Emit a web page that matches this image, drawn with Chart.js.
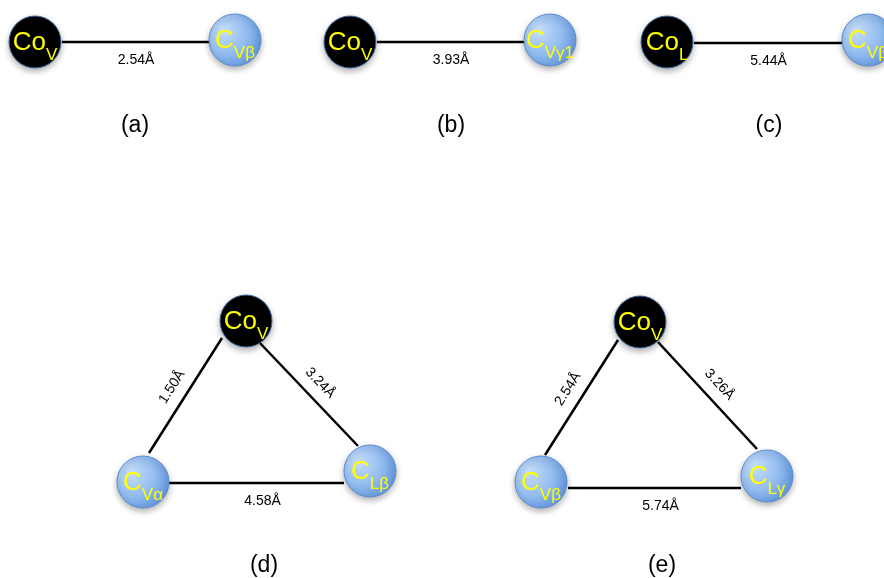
<!DOCTYPE html>
<html>
<head>
<meta charset="utf-8">
<script src="https://cdn.jsdelivr.net/npm/chart.js@4/dist/chart.umd.min.js"></script>
<style>
  html, body { margin: 0; padding: 0; background: #fff; }
  #wrap { width: 884px; height: 578px; }
</style>
</head>
<body>
<div id="wrap"><canvas id="diagram" width="884" height="578"></canvas></div>
<script>
// nodes (diagram units = reference pixels)
const nodeX = [35, 235, 350, 550, 667, 868, 246, 143, 370, 640, 541, 767];
const nodeY = [42, 40, 42, 40, 42, 40, 321, 482, 471, 322, 482, 476];
const nodeMain = ["Co", "C", "Co", "C", "Co", "C", "Co", "C", "C", "Co", "C", "C"];
const nodeSub = ["V", "Vβ", "V", "Vγ1", "L", "Vβ", "V", "Vα", "Lβ", "V", "Vβ", "Lγ"];

// bonds
const edgeX1 = [62, 377, 694, 149, 259, 169, 545, 658, 568];
const edgeY1 = [42, 42, 43, 453, 342, 483, 455, 342, 488];
const edgeX2 = [210, 525, 843, 222, 358, 344, 618, 757, 741];
const edgeY2 = [42, 42, 43, 338, 446, 483, 340, 449, 488];
const edgeLabel = ["2.54Å", "3.93Å", "5.44Å", "1.50Å", "3.24Å", "4.58Å", "2.54Å", "3.26Å", "5.74Å"];

// panel captions
const panelLabel = ["(a)", "(b)", "(c)", "(d)", "(e)"];
const panelX = [135, 451, 769, 264, 662];
const panelY = [126, 126, 126, 566, 566];

const FONT = "'Liberation Sans', Arial, Helvetica, sans-serif";

function nodeFill(ctx) {
    const i = ctx.dataIndex;
    if (i === undefined || nodeMain[i] === "Co") return "#000000";
    const sx = ctx.chart.scales.x, sy = ctx.chart.scales.y;
    if (!sx || !sy) return "#8ab4ea";
    const cx = sx.getPixelForValue(nodeX[i]);
    const cy = sy.getPixelForValue(nodeY[i]);
    if (!isFinite(cx) || !isFinite(cy)) return "#8ab4ea";
    const g = ctx.chart.ctx.createRadialGradient(cx - 12, cy - 10, 2, cx - 6, cy - 4, 40);
    g.addColorStop(0, "#c2dbf9");
    g.addColorStop(0.5, "#93bcef");
    g.addColorStop(1, "#4f86d4");
    return g;
}

const datasets = [{
    label: "nodes",
    data: nodeX.map((x, i) => ({ x: x, y: nodeY[i] })),
    pointRadius: 26,
    pointHoverRadius: 26,
    pointBackgroundColor: nodeFill,
    pointBorderColor: nodeMain.map(m => m === "Co" ? "#3d6aa3" : "#5a8bd0"),
    pointBorderWidth: 1,
    showLine: false,
    clip: false
}];

edgeX1.forEach((x, i) => {
    datasets.push({
        label: "bond " + edgeLabel[i],
        data: [{ x: x, y: edgeY1[i] }, { x: edgeX2[i], y: edgeY2[i] }],
        showLine: true,
        borderColor: "#000",
        borderWidth: 2.5,
        pointRadius: 0,
        clip: false
    });
});

// soft shadow under the atoms
const shadowPlugin = {
    id: "shadow",
    beforeDatasetDraw(chart, args) {
        if (args.index !== 0) return;
        const c = chart.ctx;
        c.save();
        c.shadowColor = "rgba(0,0,0,0.3)";
        c.shadowBlur = 6;
        c.shadowOffsetY = 3;
    },
    afterDatasetDraw(chart, args) {
        if (args.index === 0) chart.ctx.restore();
    }
};

// atom names, bond lengths and captions
const textPlugin = {
    id: "texts",
    afterDatasetsDraw(chart) {
        const c = chart.ctx;
        const sx = chart.scales.x, sy = chart.scales.y;
        c.save();

        // atom labels with subscript
        nodeX.forEach((v, i) => {
            const cx = sx.getPixelForValue(v);
            const cy = sy.getPixelForValue(nodeY[i]);
            c.font = "26px " + FONT;
            const wMain = c.measureText(nodeMain[i]).width;
            c.font = "17px " + FONT;
            const wSub = c.measureText(nodeSub[i]).width;
            const left = cx - (wMain + wSub) / 2;
            c.fillStyle = "#ffff00";
            c.textAlign = "left";
            c.textBaseline = "alphabetic";
            c.font = "26px " + FONT;
            c.fillText(nodeMain[i], left, cy + 8);
            c.font = "17px " + FONT;
            c.fillText(nodeSub[i], left + wMain, cy + 18);
        });

        // bond lengths
        c.font = "14px " + FONT;
        c.fillStyle = "#000";
        c.textAlign = "center";
        c.textBaseline = "middle";
        edgeLabel.forEach((t, i) => {
            const x1 = sx.getPixelForValue(edgeX1[i]), y1 = sy.getPixelForValue(edgeY1[i]);
            const x2 = sx.getPixelForValue(edgeX2[i]), y2 = sy.getPixelForValue(edgeY2[i]);
            const ang = Math.atan2(y2 - y1, x2 - x1);
            const mx = (x1 + x2) / 2, my = (y1 + y2) / 2;
            const flat = Math.abs(y2 - y1) < 2;
            const off = flat ? -18 : 16; // flat bonds: below, tilted: above
            const nx = Math.sin(ang) * off, ny = -Math.cos(ang) * off;
            c.save();
            c.translate(mx + nx + (flat && i > 4 ? 6 : 0), my + ny);
            c.rotate(ang);
            c.fillText(t, 0, 0);
            c.restore();
        });

        // panel captions
        c.font = "23px " + FONT;
        panelLabel.forEach((t, i) => {
            c.fillText(t, sx.getPixelForValue(panelX[i]), sy.getPixelForValue(panelY[i]));
        });
        c.restore();
    }
};

new Chart(document.getElementById("diagram"), {
    type: "scatter",
    data: { datasets: datasets },
    options: {
        responsive: false,
        animation: false,
        events: [],
        layout: { padding: 0, autoPadding: false },
        scales: {
            x: { type: "linear", min: 0, max: 884, display: false },
            y: { type: "linear", min: 0, max: 578, reverse: true, display: false }
        },
        plugins: {
            legend: { display: false },
            tooltip: { enabled: false }
        }
    },
    plugins: [shadowPlugin, textPlugin]
});
</script>
</body>
</html>
